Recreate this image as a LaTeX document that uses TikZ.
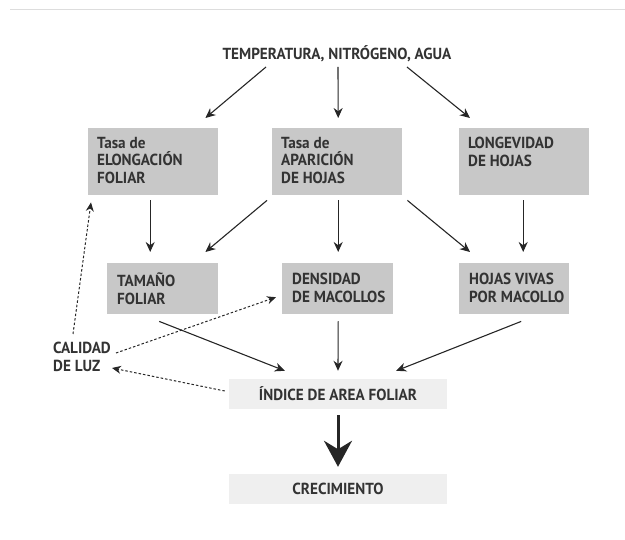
\documentclass[tikz,border=0pt]{standalone}
\usepackage{fontspec}
\setmainfont{PT Sans}[FakeStretch=0.95]
\usetikzlibrary{arrows.meta,calc}
\definecolor{boxgray}{HTML}{C8C8C8}
\definecolor{lightbox}{HTML}{EFEFEF}
\definecolor{txtgray}{HTML}{333333}
\definecolor{linegray}{HTML}{262626}
\definecolor{rulegray}{HTML}{DDDDDD}
\begin{document}
\begin{tikzpicture}[x=1pt,y=-1pt,
  txt/.style={inner sep=0pt, align=left, text=txtgray, font=\fontsize{16}{17.5}\selectfont\bfseries},
  darkbox/.style={fill=boxgray, draw=none, inner sep=0pt, anchor=north west},
  lightbx/.style={fill=lightbox, draw=none, inner sep=0pt, text=txtgray, font=\fontsize{16}{17.5}\selectfont\bfseries},
  arr/.style={draw=linegray, line width=1.1pt, -{Stealth[length=10pt,width=9pt]}},
  darr/.style={draw=linegray, line width=1pt, dash pattern=on 2.5pt off 2pt, -{Stealth[length=9pt,width=8pt]}},
  bigarr/.style={draw=linegray, line width=3pt, -{Stealth[length=26pt,width=28pt]}}
]
\useasboundingbox (0,0) rectangle (625,540);
\draw[rulegray, line width=1pt] (10,10) -- (625,10);

\node[txt, anchor=center] (title) at (337,54) {TEMPERATURA, NITRÓGENO, AGUA};

% row 1 boxes
\node[darkbox, minimum width=130pt, minimum height=67pt] (b1) at (88,128) {};
\node[darkbox, minimum width=130pt, minimum height=67pt] (b2) at (272,128) {};
\node[darkbox, minimum width=130pt, minimum height=67pt] (b3) at (459,128) {};
\node[txt, anchor=north west] (t1) at ($(b1.north west)+(9,9)$) {Tasa de\\ELONGACIÓN\\FOLIAR};
\node[txt, anchor=north west] (t2) at ($(b2.north west)+(9,9)$) {Tasa de\\APARICIÓN\\DE HOJAS};
\node[txt, anchor=north west] (t3) at ($(b3.north west)+(9,9)$) {LONGEVIDAD\\DE HOJAS};

% row 2 boxes
\node[darkbox, minimum width=111pt, minimum height=51pt] (c1) at (107,263) {};
\node[darkbox, minimum width=111pt, minimum height=51pt] (c2) at (282,263) {};
\node[darkbox, minimum width=110pt, minimum height=51pt] (c3) at (459,263) {};
\node[txt, anchor=north west] (u1) at ($(c1.north west)+(10,10)$) {TAMAÑO\\FOLIAR};
\node[txt, anchor=north west] (u2) at ($(c2.north west)+(10,10)$) {DENSIDAD\\DE MACOLLOS};
\node[txt, anchor=north west] (u3) at ($(c3.north west)+(10,10)$) {HOJAS VIVAS\\POR MACOLLO};

% bottom boxes
\node[lightbx, minimum width=218pt, minimum height=30pt] (d) at (338,394) {ÍNDICE DE AREA FOLIAR};
\node[lightbx, minimum width=218pt, minimum height=30pt] (e) at (338,489) {CRECIMIENTO};

% calidad de luz
\node[txt, anchor=north west] (cal) at (53,342) {CALIDAD\\DE LUZ};

% arrows from title
\draw[arr] ($(title.center)+(-71,13)$) -- ($(b1.north east)+(-13,-10)$);
\draw[arr] ($(title.center)+(1,13)$) -- ($(b2.north)+(1,-10)$);
\draw[arr] ($(title.center)+(70,13)$) -- ($(b3.north west)+(11,-10)$);

% row 1 -> row 2
\draw[arr] ($(b1.south)+(-3,5)$) -- ($(c1.north)+(-12.5,-11)$);
\draw[arr] ($(b2.south west)+(-5,5)$) -- ($(c1.north east)+(-13,-11)$);
\draw[arr] ($(b2.south)+(1,5)$) -- ($(c2.north)+(0.5,-11)$);
\draw[arr] ($(b2.south east)+(5,5)$) -- ($(c3.north west)+(11,-11)$);
\draw[arr] ($(b3.south)+(-1,5)$) -- ($(c3.north)+(9,-11)$);

% row 2 -> indice
\draw[arr] ($(c1.south)+(-3.5,7)$) -- ($(d.north west)+(56,-8)$);
\draw[arr] ($(c2.south)+(0.5,7)$) -- ($(d.north)+(0,-8)$);
\draw[arr] ($(c3.south)+(7,7)$) -- ($(d.north east)+(-51,-8)$);

% indice -> crecimiento
\draw[bigarr] ($(d.south)+(0,6)$) -- ($(e.north)+(0,-7)$);

% dashed
\draw[darr] ($(cal.north west)+(20,-8)$) -- ($(b1.south west)+(3,7)$);
\draw[darr] ($(cal.north west)+(63,11)$) -- ($(c2.west)+(-6,8.5)$);
\draw[darr] ($(d.west)+(-4,-3)$) -- ($(cal.north west)+(59,26)$);
\end{tikzpicture}
\end{document}
